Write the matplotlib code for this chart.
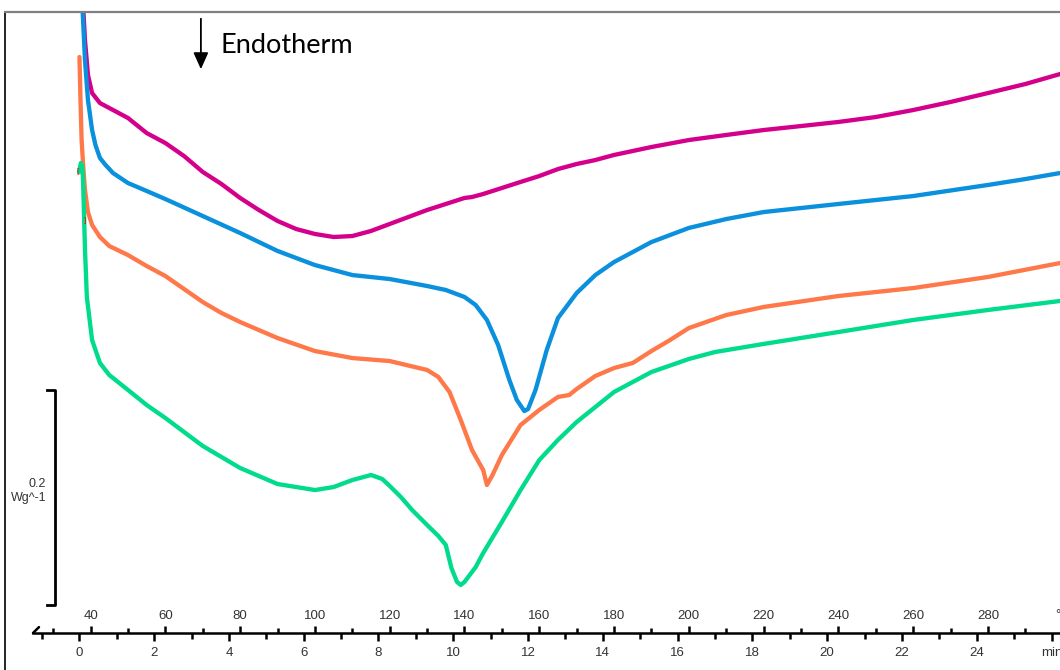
import matplotlib
matplotlib.use('Agg')
import matplotlib.pyplot as plt
from matplotlib.ticker import FixedLocator, FixedFormatter

plt.rcParams['font.family'] = ['Liberation Sans', 'DejaVu Sans']

# heating programme: 37 °C start, 10 °C/min
t0_temp = 37.0
rate = 10.0

# DSC curves: temperature (°C) vs heat flow (W/g, stacked offsets as in the instrument plot)
temp_magenta = [37.8, 38.5, 39.3, 40.4, 42.5, 46.5, 50, 55, 60, 65, 70, 75, 80, 85, 90, 95, 100,
                105, 110, 115, 120, 125, 130, 135, 140, 142, 145, 150, 155, 160, 165, 170, 175, 180,
                190, 200, 210, 220, 230, 240, 250, 260, 270, 280, 290, 299.3]
hf_magenta = [0.630, 0.586, 0.5535, 0.5367, 0.5274, 0.5200, 0.5135, 0.4995, 0.4902, 0.4781, 0.4633,
              0.4521, 0.4391, 0.4279, 0.4177, 0.4102, 0.4056, 0.4028, 0.4037, 0.4084, 0.4149, 0.4214,
              0.4279, 0.4335, 0.4391, 0.4400, 0.4428, 0.4484, 0.4540, 0.4595, 0.4660, 0.4707, 0.4744,
              0.4791, 0.4865, 0.4930, 0.4977, 0.5023, 0.5060, 0.5098, 0.5144, 0.5209, 0.5284, 0.5367,
              0.5451, 0.5544]

temp_blue = [37.5, 38.5, 39.3, 40.4, 41.3, 42.5, 44, 46, 50, 55, 60, 70, 80, 90, 100, 110, 120, 130,
             135, 140, 143, 146, 149, 152, 154, 156, 157, 159, 162, 165, 170, 175, 180, 190, 200, 210,
             220, 240, 260, 280, 290, 299.3]
hf_blue = [0.640, 0.5674, 0.5302, 0.5023, 0.4884, 0.4763, 0.4698, 0.4623, 0.4530, 0.4456, 0.4381,
           0.4223, 0.4065, 0.3898, 0.3767, 0.3674, 0.3637, 0.3572, 0.3535, 0.3470, 0.3395, 0.3256,
           0.3023, 0.2698, 0.2512, 0.2409, 0.2428, 0.2605, 0.2977, 0.3274, 0.3507, 0.3674, 0.3795,
           0.3981, 0.4112, 0.4195, 0.4260, 0.4335, 0.4409, 0.4512, 0.4567, 0.4623]

temp_orange = [37.03, 37.3, 37.6, 38.0, 38.5, 39.3, 40.4, 42.5, 45, 50, 55, 60, 70, 75, 80, 90, 100,
               110, 120, 130, 133, 136, 139, 142, 145, 146, 147.5, 150, 155, 160, 165, 168, 170, 175,
               180, 185, 190, 195, 200, 210, 220, 240, 260, 280, 299.3]
hf_orange = [0.5702, 0.5302, 0.4930, 0.4698, 0.4465, 0.4260, 0.4140, 0.4028, 0.3944, 0.3860, 0.3758,
             0.3665, 0.3423, 0.3321, 0.3237, 0.3088, 0.2967, 0.2902, 0.2874, 0.2791, 0.2726, 0.2586,
             0.2326, 0.2047, 0.1860, 0.1721, 0.1814, 0.2000, 0.2279, 0.2419, 0.2540, 0.2558, 0.2614,
             0.2735, 0.2809, 0.2856, 0.2967, 0.3070, 0.3181, 0.3302, 0.3377, 0.3479, 0.3553, 0.3656,
             0.3786]

temp_green = [36.9, 37.4, 37.8, 38.0, 38.5, 39.0, 40.4, 42.5, 45, 50, 55, 60, 70, 80, 90, 100, 105,
              110, 115, 118, 120, 123, 126, 130, 133, 135, 136.5, 138, 139, 140, 143, 145, 150, 155,
              160, 165, 170, 180, 190, 200, 207, 220, 240, 260, 280, 299.3]
hf_green = [0.4633, 0.4716, 0.4680, 0.4540, 0.3916, 0.3470, 0.3070, 0.2856, 0.2744, 0.2605, 0.2465,
            0.2344, 0.2084, 0.1879, 0.1730, 0.1674, 0.1702, 0.1767, 0.1814, 0.1777, 0.1712, 0.1609,
            0.1488, 0.1349, 0.1247, 0.1163, 0.0949, 0.0819, 0.0791, 0.0819, 0.0958, 0.1088, 0.1377,
            0.1674, 0.1953, 0.2140, 0.2307, 0.2586, 0.2772, 0.2893, 0.2958, 0.3033, 0.3144, 0.3256,
            0.3349, 0.3433]

temp_ticks = list(range(40, 281, 20))
temp_labels = [str(v) for v in temp_ticks]
temp_minor = list(range(30, 291, 20))
time_ticks = list(range(0, 27, 2))
time_labels = [str(v) for v in range(0, 25, 2)] + ['min']
time_minor = list(range(-1, 26, 2))

scale_bar = 0.2      # W/g
scale_base = 0.0605

fig = plt.figure(figsize=(10.6, 6.7), dpi=100)
ax = fig.add_axes([5 / 1060, 0, 1055 / 1060, 658 / 670])
ax.set_xlim(17.11, 299.27)
ax.set_ylim(0, 0.6121)
ax.set_xticks([])
ax.set_yticks([])
ax.spines['right'].set_visible(False)
ax.spines['bottom'].set_visible(False)
ax.spines['left'].set_color('black')
ax.spines['left'].set_linewidth(1.2)
ax.spines['top'].set_color('#808080')
ax.spines['top'].set_linewidth(1.6)

for T, hf, c in [(temp_magenta, hf_magenta, '#d4008c'),
                 (temp_blue, hf_blue, '#0a90dc'),
                 (temp_orange, hf_orange, '#ff7849'),
                 (temp_green, hf_green, '#00db8c')]:
    ax.plot(T, hf, color=c, lw=3.1, solid_joinstyle='round', solid_capstyle='round')

# small red analysis brackets
ax.text(36.9, 0.4633, '[', color='red', fontsize=6, ha='right', va='center')
ax.text(38.6, 0.418, ']', color='red', fontsize=6, ha='center', va='center')

# time / temperature axis
axis_y = 0.0344
loc = axis_y / 0.6121

sec_T = ax.secondary_xaxis(loc, functions=(lambda x: x, lambda x: x))
sec_T.set_alignment('top')
sec_T.spines['top'].set_visible(False)
sec_T.spines['bottom'].set_visible(False)
sec_T.xaxis.set_major_locator(FixedLocator(temp_ticks))
sec_T.xaxis.set_major_formatter(FixedFormatter(temp_labels))
sec_T.xaxis.set_minor_locator(FixedLocator(temp_minor))
sec_T.tick_params(which='major', direction='out', length=5, width=1.8, pad=3,
                  labelsize=9.5, labelcolor='#333333')
sec_T.tick_params(which='minor', direction='out', length=3.6, width=1.8)
# unit label sits at the 300 °C position, partly beyond the right edge as in the original
ax.text(300, axis_y + 0.0172, '°C', ha='center', va='center', fontsize=9.5, color='#333333',
        clip_on=False)

sec_t = ax.secondary_xaxis(loc, functions=(lambda T: (T - t0_temp) / rate,
                                           lambda t: t0_temp + rate * t))
sec_t.spines['top'].set_visible(False)
sec_t.spines['bottom'].set_linewidth(1.8)
sec_t.spines['bottom'].set_bounds(-1.24, 27)
sec_t.xaxis.set_major_locator(FixedLocator(time_ticks))
sec_t.xaxis.set_major_formatter(FixedFormatter(time_labels))
sec_t.xaxis.set_minor_locator(FixedLocator(time_minor))
sec_t.tick_params(which='major', direction='out', length=5.8, width=1.8, pad=4,
                  labelsize=9.5, labelcolor='#333333')
sec_t.tick_params(which='minor', direction='out', length=4, width=1.8)

# hook at left end of the axis
tip = t0_temp + rate * -1.24
ax.plot([tip, tip + 1.6], [axis_y, axis_y + 0.0055], color='black', lw=1.8,
        solid_capstyle='round')

# scale bar
bar_x = 30.5
ax.plot([bar_x - 2.1, bar_x, bar_x, bar_x - 2.1],
        [scale_base + scale_bar, scale_base + scale_bar, scale_base, scale_base],
        color='black', lw=2)
ax.text(28.1, scale_base + scale_bar * 0.53, '0.2\nWg^-1', ha='right', va='center',
        fontsize=9, color='#333333', multialignment='right', linespacing=1.25)

# endotherm arrow
ax.annotate('', xy=(69.5, 0.5563), xytext=(69.5, 0.6084),
            arrowprops=dict(arrowstyle='-|>,head_length=1.0,head_width=0.45',
                            color='black', lw=1.3))
ax.text(74.7, 0.5814, 'Endotherm', fontsize=19.5, family=['Lato', 'DejaVu Sans'],
        ha='left', va='center', color='black')

fig.savefig('out.png', dpi=100)
